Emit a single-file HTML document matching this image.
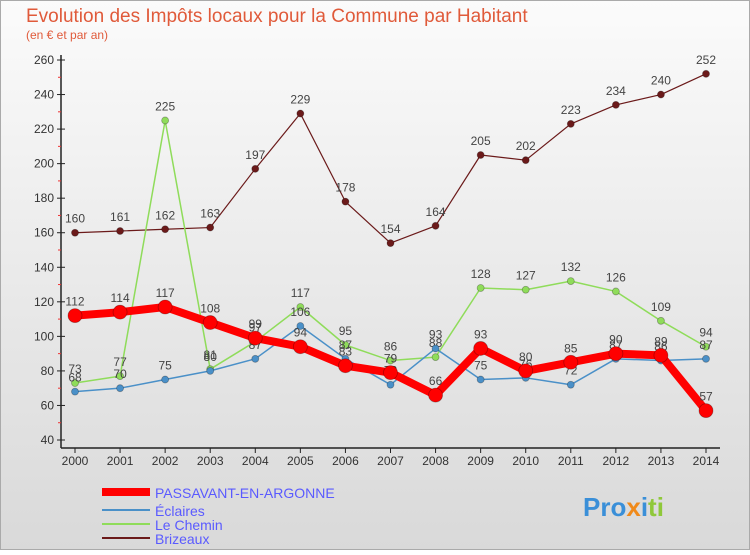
<!DOCTYPE html>
<html><head><meta charset="utf-8"><style>
body{margin:0;width:750px;height:550px;overflow:hidden;font-family:"Liberation Sans",sans-serif}
</style></head><body>
<svg width="750" height="550" xmlns="http://www.w3.org/2000/svg">
<defs><linearGradient id="bg" x1="0" y1="0" x2="0" y2="1"><stop offset="0" stop-color="#fbfbfb"/><stop offset="1" stop-color="#d9d9d9"/></linearGradient></defs>
<rect x="0.5" y="0.5" width="749" height="549" fill="url(#bg)" stroke="#aaa"/>
<text x="26" y="22" font-size="19" fill="#e05a3a">Evolution des Impôts locaux pour la Commune par Habitant</text>
<text x="26" y="39" font-size="12" fill="#e05a3a">(en € et par an)</text>
<g id="axes"></g>
<g id="series"></g>
<g id="legend" font-size="14">
<line x1="102" y1="492" x2="150" y2="492" stroke="#f00" stroke-width="8"/>
<text x="155" y="498" fill="#5a5aff">PASSAVANT-EN-ARGONNE</text>
<line x1="102" y1="510" x2="150" y2="510" stroke="#4a90c8" stroke-width="2"/>
<text x="155" y="516" fill="#5a5aff">Éclaires</text>
<line x1="102" y1="524" x2="150" y2="524" stroke="#8fdc5a" stroke-width="2"/>
<text x="155" y="530" fill="#5a5aff">Le Chemin</text>
<line x1="102" y1="538" x2="150" y2="538" stroke="#6b1a1a" stroke-width="2"/>
<text x="155" y="544" fill="#5a5aff">Brizeaux</text>
</g>
<text x="583" y="516" font-size="26" font-weight="bold"><tspan fill="#3a8fd8">Pro</tspan><tspan fill="#f08a1a">x</tspan><tspan fill="#3a8fd8">i</tspan><tspan fill="#8fc83a">ti</tspan></text>
</svg>
<script>
const years=[2000,2001,2002,2003,2004,2005,2006,2007,2008,2009,2010,2011,2012,2013,2014];
const yTicks=[40,60,80,100,120,140,160,180,200,220,240,260];
const passavant=[112,114,117,108,99,94,83,79,66,93,80,85,90,89,57];
const eclaires=[68,70,75,80,87,106,87,72,93,75,76,72,87,86,87];
const leChemin=[73,77,225,81,97,117,95,86,88,128,127,132,126,109,94];
const brizeaux=[160,161,162,163,197,229,178,154,164,205,202,223,234,240,252];
const NS="http://www.w3.org/2000/svg";
const xs=i=>75+i*(706-75)/(years.length-1);
const ys=v=>440-(v-40)*(380/220);
function mk(tag,attrs,parent,txt){const e=document.createElementNS(NS,tag);for(const k in attrs)e.setAttribute(k,attrs[k]);if(txt!==undefined)e.textContent=txt;parent.appendChild(e);return e;}
const ax=document.getElementById('axes');
let a=mk('line',{x1:61,y1:55,x2:61,y2:448,stroke:'#222','stroke-width':1.5},ax);


a=mk('line',{x1:61,y1:448,x2:720,y2:448,stroke:'#222','stroke-width':1.5},ax);


yTicks.forEach((t,i)=>{const y=ys(t);
 let l=mk('line',{x1:57,y1:y,x2:65,y2:y,stroke:'#222'},ax);
 
 
 let tx=mk('text',{x:54,y:y+4,'text-anchor':'end','font-size':12,fill:'#333'},ax,t);
 
 
 if(i<yTicks.length-1){let m=mk('line',{x1:58,y1:ys(t+10),x2:61,y2:ys(t+10),stroke:'#e33'},ax);
 
 }
});
years.forEach((yr,i)=>{const x=xs(i);
 let l=mk('line',{x1:x,y1:448,x2:x,y2:453,stroke:'#222'},ax);
 
 
 let tx=mk('text',{x:x,y:465,'text-anchor':'middle','font-size':12,fill:'#333'},ax,yr);
 
 
});
const sg=document.getElementById('series');
function draw(vals,color,w,r,name){
 const g=mk('g',{},sg);
 
 
 const pl=mk('polyline',{points:vals.map((v,i)=>xs(i)+','+ys(v)).join(' '),fill:'none',stroke:color,'stroke-width':w,'stroke-linejoin':'round'},g);
 
 
 vals.forEach((v,i)=>{
  const c=mk('circle',{cx:xs(i),cy:ys(v),r:r,fill:color,stroke:'rgba(0,0,0,0.3)','stroke-width':0.8},g);
  
  
  const t=mk('text',{x:xs(i),y:ys(v)-10,'text-anchor':'middle','font-size':12,fill:'#444'},g,v);
  
  
 });
}
draw(brizeaux,'#6b1a1a',1.2,3.5,'brizeaux');
draw(leChemin,'#8fdc5a',1.5,3.5,'le-chemin');
draw(eclaires,'#4a90c8',1.5,3.5,'eclaires');
draw(passavant,'#f00',8,7,'passavant');
</script>
</body></html>
